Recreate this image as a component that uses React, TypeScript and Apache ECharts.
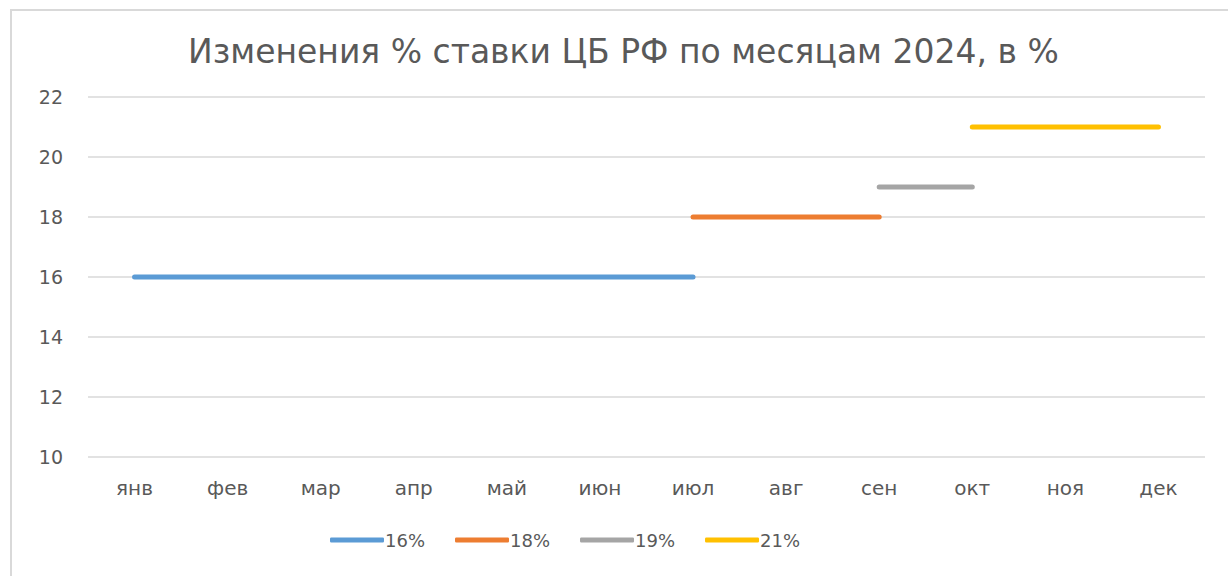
import React, { useEffect, useRef } from "react";
import * as echarts from "echarts";

const titleText = "Изменения % ставки ЦБ РФ по месяцам 2024, в %";
const months = ["янв", "фев", "мар", "апр", "май", "июн", "июл", "авг", "сен", "окт", "ноя", "дек"];
const seriesNames = ["16%", "18%", "19%", "21%"];
const seriesColors = ["#5B9BD5", "#ED7D31", "#A5A5A5", "#FFC000"];
const rate16 = [16, 16, 16, 16, 16, 16, 16, null, null, null, null, null];
const rate18 = [null, null, null, null, null, null, 18, 18, 18, null, null, null];
const rate19 = [null, null, null, null, null, null, null, null, 19, 19, null, null];
const rate21 = [null, null, null, null, null, null, null, null, null, 21, 21, 21];
const seriesData = [rate16, rate18, rate19, rate21];

export default function App() {
  const ref = useRef<HTMLDivElement>(null);
  useEffect(() => {
    if (!ref.current) return;
    const chart = echarts.init(ref.current, null, { renderer: "svg" });
    const font = "'DejaVu Sans', 'Noto Sans', sans-serif";
    chart.setOption({
      animation: false,
      backgroundColor: "#ffffff",
      title: {
        text: titleText,
        left: 183,
        top: 30,
        textStyle: { fontFamily: font, fontSize: 33, fontWeight: "normal", color: "#595959" },
      },
      graphic: [
        {
          type: "rect",
          shape: { x: 11, y: 10, width: 1240, height: 600 },
          style: { fill: "none", stroke: "#d9d9d9", lineWidth: 2 },
          silent: true,
        },
      ],
      legend: {
        bottom: 22,
        left: 325,
        itemWidth: 54,
        itemHeight: 5,
        itemGap: 30,
        icon: "roundRect",
        textStyle: { fontFamily: font, fontSize: 18, color: "#595959", padding: [0, 0, 0, -4] },
        data: seriesNames,
      },
      grid: { left: 88, right: 23, top: 97, bottom: 119 },
      xAxis: {
        type: "category",
        data: months,
        boundaryGap: true,
        axisLine: { show: false },
        axisTick: { show: false },
        axisLabel: { fontFamily: font, fontSize: 20, color: "#595959", margin: 21 },
      },
      yAxis: {
        type: "value",
        min: 10,
        max: 22,
        interval: 2,
        axisLine: { show: false },
        axisTick: { show: false },
        axisLabel: { fontFamily: font, fontSize: 19, color: "#595959", margin: 25 },
        splitLine: { lineStyle: { color: "#d9d9d9", width: 1.5 } },
      },
      series: seriesNames.map((name, i) => ({
        name,
        type: "line",
        data: seriesData[i],
        symbol: "none",
        connectNulls: false,
        color: seriesColors[i],
        lineStyle: { width: 5, cap: "round", color: seriesColors[i] },
      })),
    });
    return () => chart.dispose();
  }, []);
  return <div ref={ref} style={{ position: "fixed", left: 0, top: 0, width: 1228, height: 576 }} />;
}
